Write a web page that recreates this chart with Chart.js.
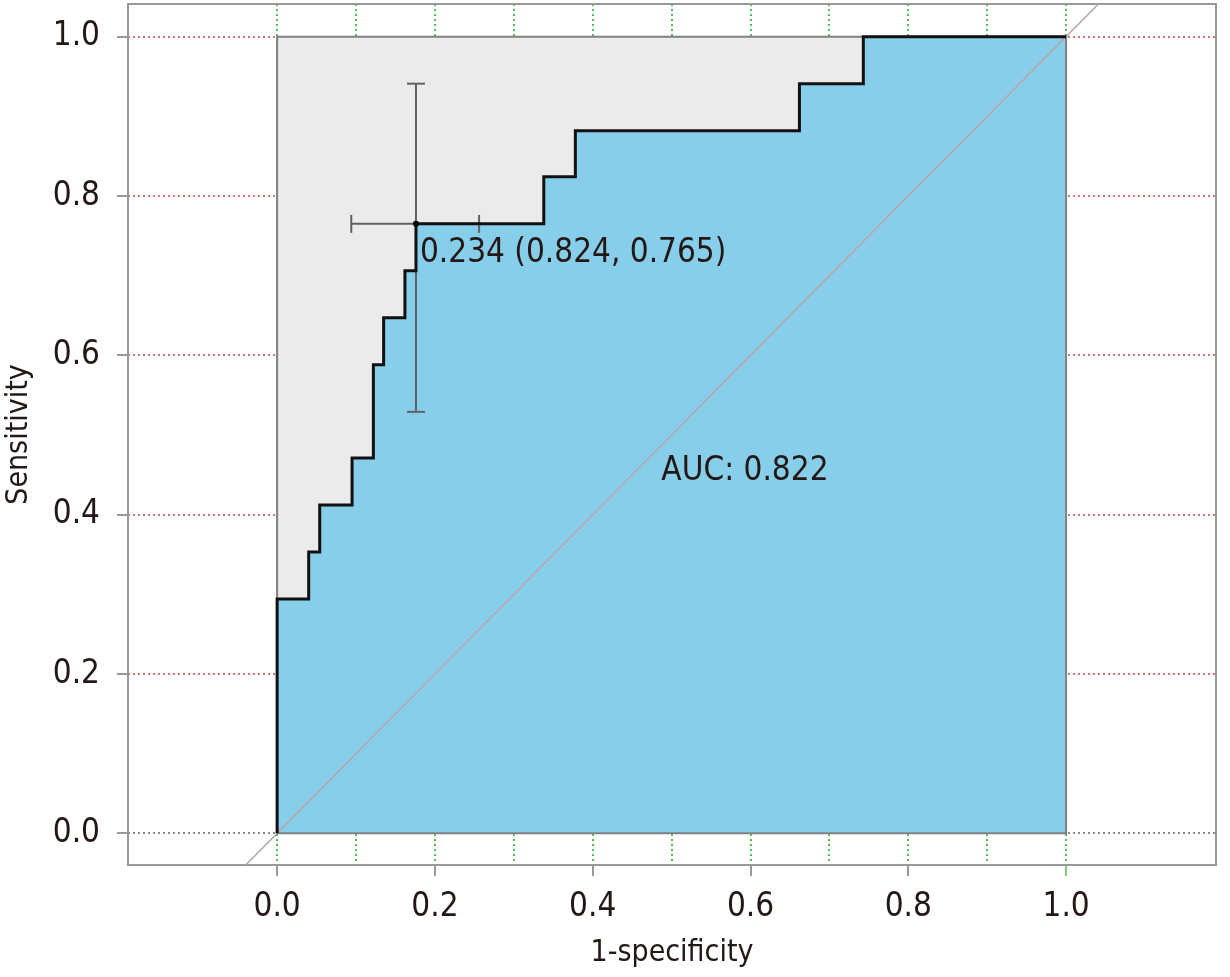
<!DOCTYPE html>
<html>
<head>
    <title>ROC curve</title>
    <script src="https://cdn.jsdelivr.net/npm/chart.js@4.4.0/dist/chart.umd.min.js"></script>
    <style>
        html, body { margin: 0; padding: 0; background: #fff; }
        #wrap { width: 1230px; height: 977px; }
    </style>
</head>
<body>
<div id="wrap">
    <canvas id="rocCanvas" width="1230" height="977"></canvas>
</div>
<script>

// ROC curve coordinates (1-specificity, sensitivity)
const rocFpr = [0, 0, 0.040, 0.040, 0.054, 0.054, 0.095, 0.095, 0.122, 0.122, 0.135, 0.135,
    0.162, 0.162, 0.176, 0.176, 0.338, 0.338, 0.378, 0.378, 0.662, 0.662, 0.743, 0.743, 1.0];
const rocTpr = [0, 0.294, 0.294, 0.353, 0.353, 0.412, 0.412, 0.471, 0.471, 0.588, 0.588, 0.647,
    0.647, 0.706, 0.706, 0.765, 0.765, 0.824, 0.824, 0.882, 0.882, 0.941, 0.941, 1.0, 1.0];

// best threshold and its confidence intervals
const cutoff = { threshold: 0.234, specificity: 0.824, sensitivity: 0.765 };
const cutoffFprCI = [0.094, 0.256];
const cutoffTprCI = [0.529, 0.941];
const aucValue = 0.822;

const xTickValues = [0, 0.1, 0.2, 0.3, 0.4, 0.5, 0.6, 0.7, 0.8, 0.9, 1.0];
const yTickValues = [0, 0.2, 0.4, 0.6, 0.8, 1.0];
const xLabelledTicks = [0, 0.2, 0.4, 0.6, 0.8, 1.0];

const FONT = "'DejaVu Sans Condensed', 'DejaVu Sans', sans-serif";
const TEXT = '#231815';

const rocPoints = rocFpr.map((x, i) => ({ x: x, y: rocTpr[i] }));
const cutFpr = 1 - cutoff.specificity;

const frameBox = {
    id: 'frameBox',
    beforeDatasetsDraw(chart) {
        const { ctx, chartArea: a } = chart;
        ctx.save();
        ctx.strokeStyle = '#999';
        ctx.lineWidth = 2;
        ctx.strokeRect(a.left, a.top, a.right - a.left, a.bottom - a.top);
        ctx.restore();
    }
};

const labels = {
    id: 'labels',
    afterDatasetsDraw(chart) {
        const { ctx, scales: { x, y } } = chart;
        ctx.save();
        ctx.fillStyle = TEXT;
        ctx.font = '33px ' + FONT;
        ctx.textAlign = 'left';
        ctx.textBaseline = 'alphabetic';
        const cutText = cutoff.threshold.toFixed(3) + ' (' + cutoff.specificity.toFixed(3) + ', ' + cutoff.sensitivity.toFixed(3) + ')';
        ctx.fillText(cutText, x.getPixelForValue(cutFpr) + 4, y.getPixelForValue(cutoff.sensitivity) + 38);
        ctx.fillText('AUC: ' + aucValue.toFixed(3), x.getPixelForValue(0.487), y.getPixelForValue(0.4435));
        ctx.restore();
    }
};

const rocCtx = document.getElementById('rocCanvas').getContext('2d');

// lower order = drawn on top
new Chart(rocCtx, {
    type: 'line',
    data: {
        datasets: [
            {
                // cutoff point
                data: [{ x: cutFpr, y: cutoff.sensitivity }],
                showLine: false,
                pointRadius: 3,
                pointBackgroundColor: '#000',
                pointBorderWidth: 0,
                order: 0
            },
            {
                // roc curve line
                data: rocPoints,
                borderColor: '#111',
                borderWidth: 3,
                pointRadius: 0,
                order: 1
            },
            {
                // horizontal CI
                data: [{ x: cutoffFprCI[0], y: cutoff.sensitivity }, { x: cutoffFprCI[1], y: cutoff.sensitivity }],
                borderColor: '#606060',
                borderWidth: 2,
                pointStyle: 'line',
                pointRotation: 90,
                pointRadius: 9,
                pointBorderColor: '#606060',
                pointBorderWidth: 2,
                order: 2
            },
            {
                // vertical CI
                data: [{ x: cutFpr, y: cutoffTprCI[0] }, { x: cutFpr, y: cutoffTprCI[1] }],
                borderColor: '#606060',
                borderWidth: 2,
                pointStyle: 'line',
                pointRadius: 9,
                pointBorderColor: '#606060',
                pointBorderWidth: 2,
                order: 2
            },
            {
                // square outline
                data: [{ x: 0, y: 0 }, { x: 0, y: 1 }, { x: 1, y: 1 }, { x: 1, y: 0 }, { x: 0, y: 0 }],
                borderColor: '#808080',
                borderWidth: 2,
                pointRadius: 0,
                order: 3
            },
            {
                // chance diagonal
                data: [{ x: -0.3, y: -0.3 }, { x: 1.3, y: 1.3 }],
                borderColor: '#bba3a6',
                borderWidth: 1.5,
                pointRadius: 0,
                order: 4
            },
            {
                // area under the curve
                data: rocPoints,
                borderWidth: 0,
                borderColor: 'transparent',
                backgroundColor: '#87ceeb',
                fill: 'origin',
                pointRadius: 0,
                order: 5
            },
            {
                // grey square
                data: [{ x: 0, y: 0 }, { x: 0, y: 1 }, { x: 1, y: 1 }, { x: 1, y: 0 }, { x: 0, y: 0 }],
                borderWidth: 0,
                borderColor: 'transparent',
                backgroundColor: '#ebebeb',
                fill: 'shape',
                pointRadius: 0,
                order: 10
            }
        ]
    },
    options: {
        responsive: false,
        animation: false,
        events: [],
        layout: { autoPadding: false, padding: { left: 0, right: 14, top: 4, bottom: 0 } },
        plugins: { legend: { display: false }, tooltip: { enabled: false } },
        scales: {
            x: {
                type: 'linear',
                min: -0.189,
                max: 1.19,
                afterBuildTicks: (s) => { s.ticks = xTickValues.map(v => ({ value: v })); },
                afterFit: (s) => { s.height = 112; s.paddingLeft = 0; s.paddingRight = 0; },
                ticks: {
                    color: TEXT,
                    font: { family: FONT, size: 33 },
                    padding: 12,
                    maxRotation: 0,
                    autoSkip: false,
                    callback: (v) => xLabelledTicks.some(t => Math.abs(t - v) < 1e-6) ? v.toFixed(1) : ''
                },
                grid: {
                    color: '#55bb55',
                    lineWidth: 2,
                    tickLength: 11,
                    tickWidth: 1.5,
                    tickColor: (c) => {
                        const v = c.tick ? c.tick.value : 0;
                        if (Math.abs(v - 1) < 1e-6) return '#55bb55';
                        return xLabelledTicks.some(t => Math.abs(t - v) < 1e-6) ? '#777' : 'transparent';
                    }
                },
                border: { display: false, dash: [2, 3] },
                title: {
                    display: true,
                    text: '1-specificity',
                    color: TEXT,
                    font: { family: FONT, size: 30 },
                    padding: { top: 0, bottom: 6 }
                }
            },
            y: {
                type: 'linear',
                min: -0.0398,
                max: 1.041,
                afterBuildTicks: (s) => { s.ticks = yTickValues.map(v => ({ value: v })); },
                afterFit: (s) => { s.width = 128; s.paddingTop = 0; s.paddingBottom = 0; },
                ticks: {
                    color: TEXT,
                    font: { family: FONT, size: 33 },
                    padding: 17,
                    callback: (v) => v.toFixed(1)
                },
                grid: {
                    color: (c) => (c.tick && c.tick.value === 0) ? '#8a8a8a' : '#d9707a',
                    lineWidth: 2,
                    tickLength: 11,
                    tickWidth: 1.5,
                    tickColor: '#777'
                },
                border: { display: false, dash: [2, 3] },
                title: {
                    display: true,
                    text: 'Sensitivity',
                    color: TEXT,
                    font: { family: FONT, size: 30 },
                    padding: { top: 1, bottom: 0 }
                }
            }
        }
    },
    plugins: [frameBox, labels]
});

</script>
</body>
</html>
